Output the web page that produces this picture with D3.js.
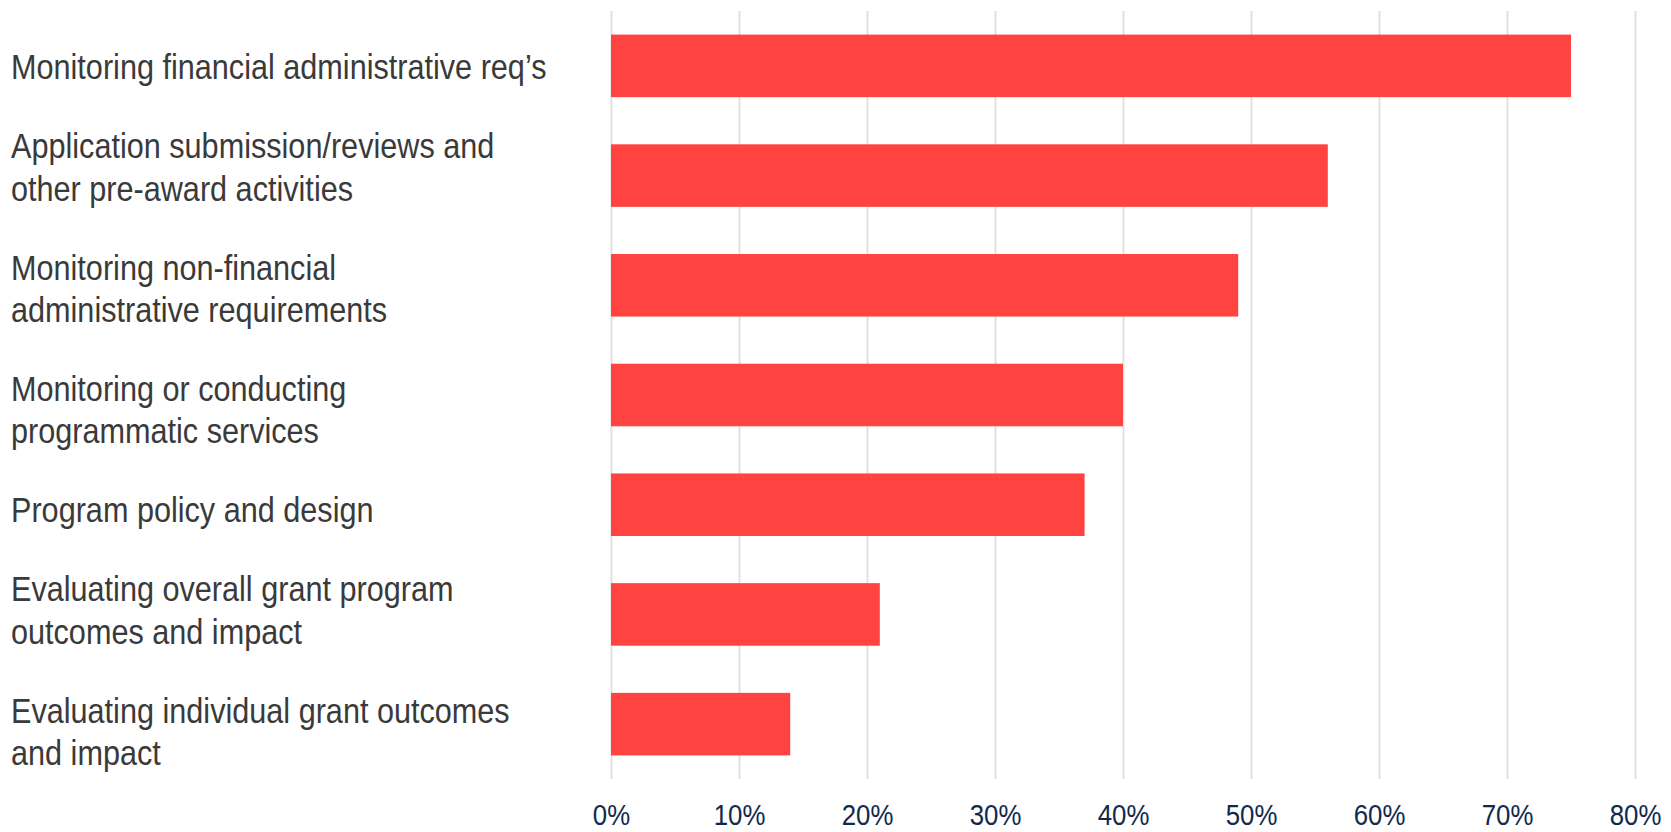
<!DOCTYPE html>
<html>
<head>
<meta charset="utf-8">
<script src="https://cdn.jsdelivr.net/npm/d3@7"></script>
<style>
  html, body { margin: 0; padding: 0; background: #ffffff; }
  svg { display: block; }
  .lab { font-family: "Liberation Sans Narrow", "Arial Narrow", "Liberation Sans", Arial, sans-serif; }
</style>
</head>
<body>
<svg id="chart" width="1671" height="832"></svg>
<script>
// ---- data ----
const categories = [
  "Monitoring financial administrative req’s",
  "Application submission/reviews and other pre-award activities",
  "Monitoring non-financial administrative requirements",
  "Monitoring or conducting programmatic services",
  "Program policy and design",
  "Evaluating overall grant program outcomes and impact",
  "Evaluating individual grant outcomes and impact"
];
const labelLines = [
  ["Monitoring financial administrative req’s"],
  ["Application submission/reviews and", "other pre-award activities"],
  ["Monitoring non-financial", "administrative requirements"],
  ["Monitoring or conducting", "programmatic services"],
  ["Program policy and design"],
  ["Evaluating overall grant program", "outcomes and impact"],
  ["Evaluating individual grant outcomes", "and impact"]
];
const values = [75, 56, 49, 40, 37, 21, 14];
const tickValues = [0, 10, 20, 30, 40, 50, 60, 70, 80];
const tickLabels = ["0%", "10%", "20%", "30%", "40%", "50%", "60%", "70%", "80%"];

// ---- layout ----
const svg = d3.select("#chart");
const plot = { left: 611, right: 1635, top: 11, bottom: 779 };
const narrow = 0.875; // horizontal squeeze to imitate a narrow face

const x = d3.scaleLinear().domain([0, 80]).range([plot.left, plot.right]);
const y = d3.scaleBand().domain(categories).range([plot.top, plot.bottom])
  .paddingInner(0.43).paddingOuter(0.215);

// gridlines + tick labels via axis
const axis = d3.axisBottom(x)
  .tickValues(tickValues)
  .tickFormat((d, i) => tickLabels[i])
  .tickSize(-(plot.bottom - plot.top))
  .tickSizeOuter(0);

const gAxis = svg.append("g")
  .attr("transform", `translate(0,${plot.bottom})`)
  .call(axis);
gAxis.select(".domain").remove();
gAxis.selectAll(".tick line")
  .attr("stroke", "#e1e1e1")
  .attr("stroke-width", 2);
gAxis.selectAll(".tick text")
  .attr("class", "lab")
  .attr("y", 0)
  .attr("dy", 0)
  .attr("transform", `translate(0,46) scale(0.86,1)`)
  .attr("fill", "#0f2a4d")
  .style("font-size", "30px");

// bars
svg.append("g").selectAll("rect")
  .data(values)
  .join("rect")
  .attr("x", x(0))
  .attr("y", (d, i) => y(categories[i]))
  .attr("width", d => x(d) - x(0))
  .attr("height", y.bandwidth())
  .attr("fill", "#ff4340");

// category labels (flowed as a text box: line spacing + paragraph spacing)
const fontSize = 35;
const lineHeight = 42.3;
const paraGap = 79;
let baseline = y(categories[0]) + y.bandwidth() / 2 + 13.5;
const gLab = svg.append("g").attr("transform", `translate(11,0) scale(${narrow},1)`);
labelLines.forEach((lines, i) => {
  const t = gLab.append("text")
    .attr("class", "lab")
    .attr("x", 0)
    .attr("fill", "#3a3a3a")
    .style("font-size", fontSize + "px");
  lines.forEach((ln, j) => {
    t.append("tspan").attr("x", 0).attr("y", baseline + j * lineHeight).text(ln);
  });
  baseline += (lines.length - 1) * lineHeight + paraGap;
});
</script>
</body>
</html>
